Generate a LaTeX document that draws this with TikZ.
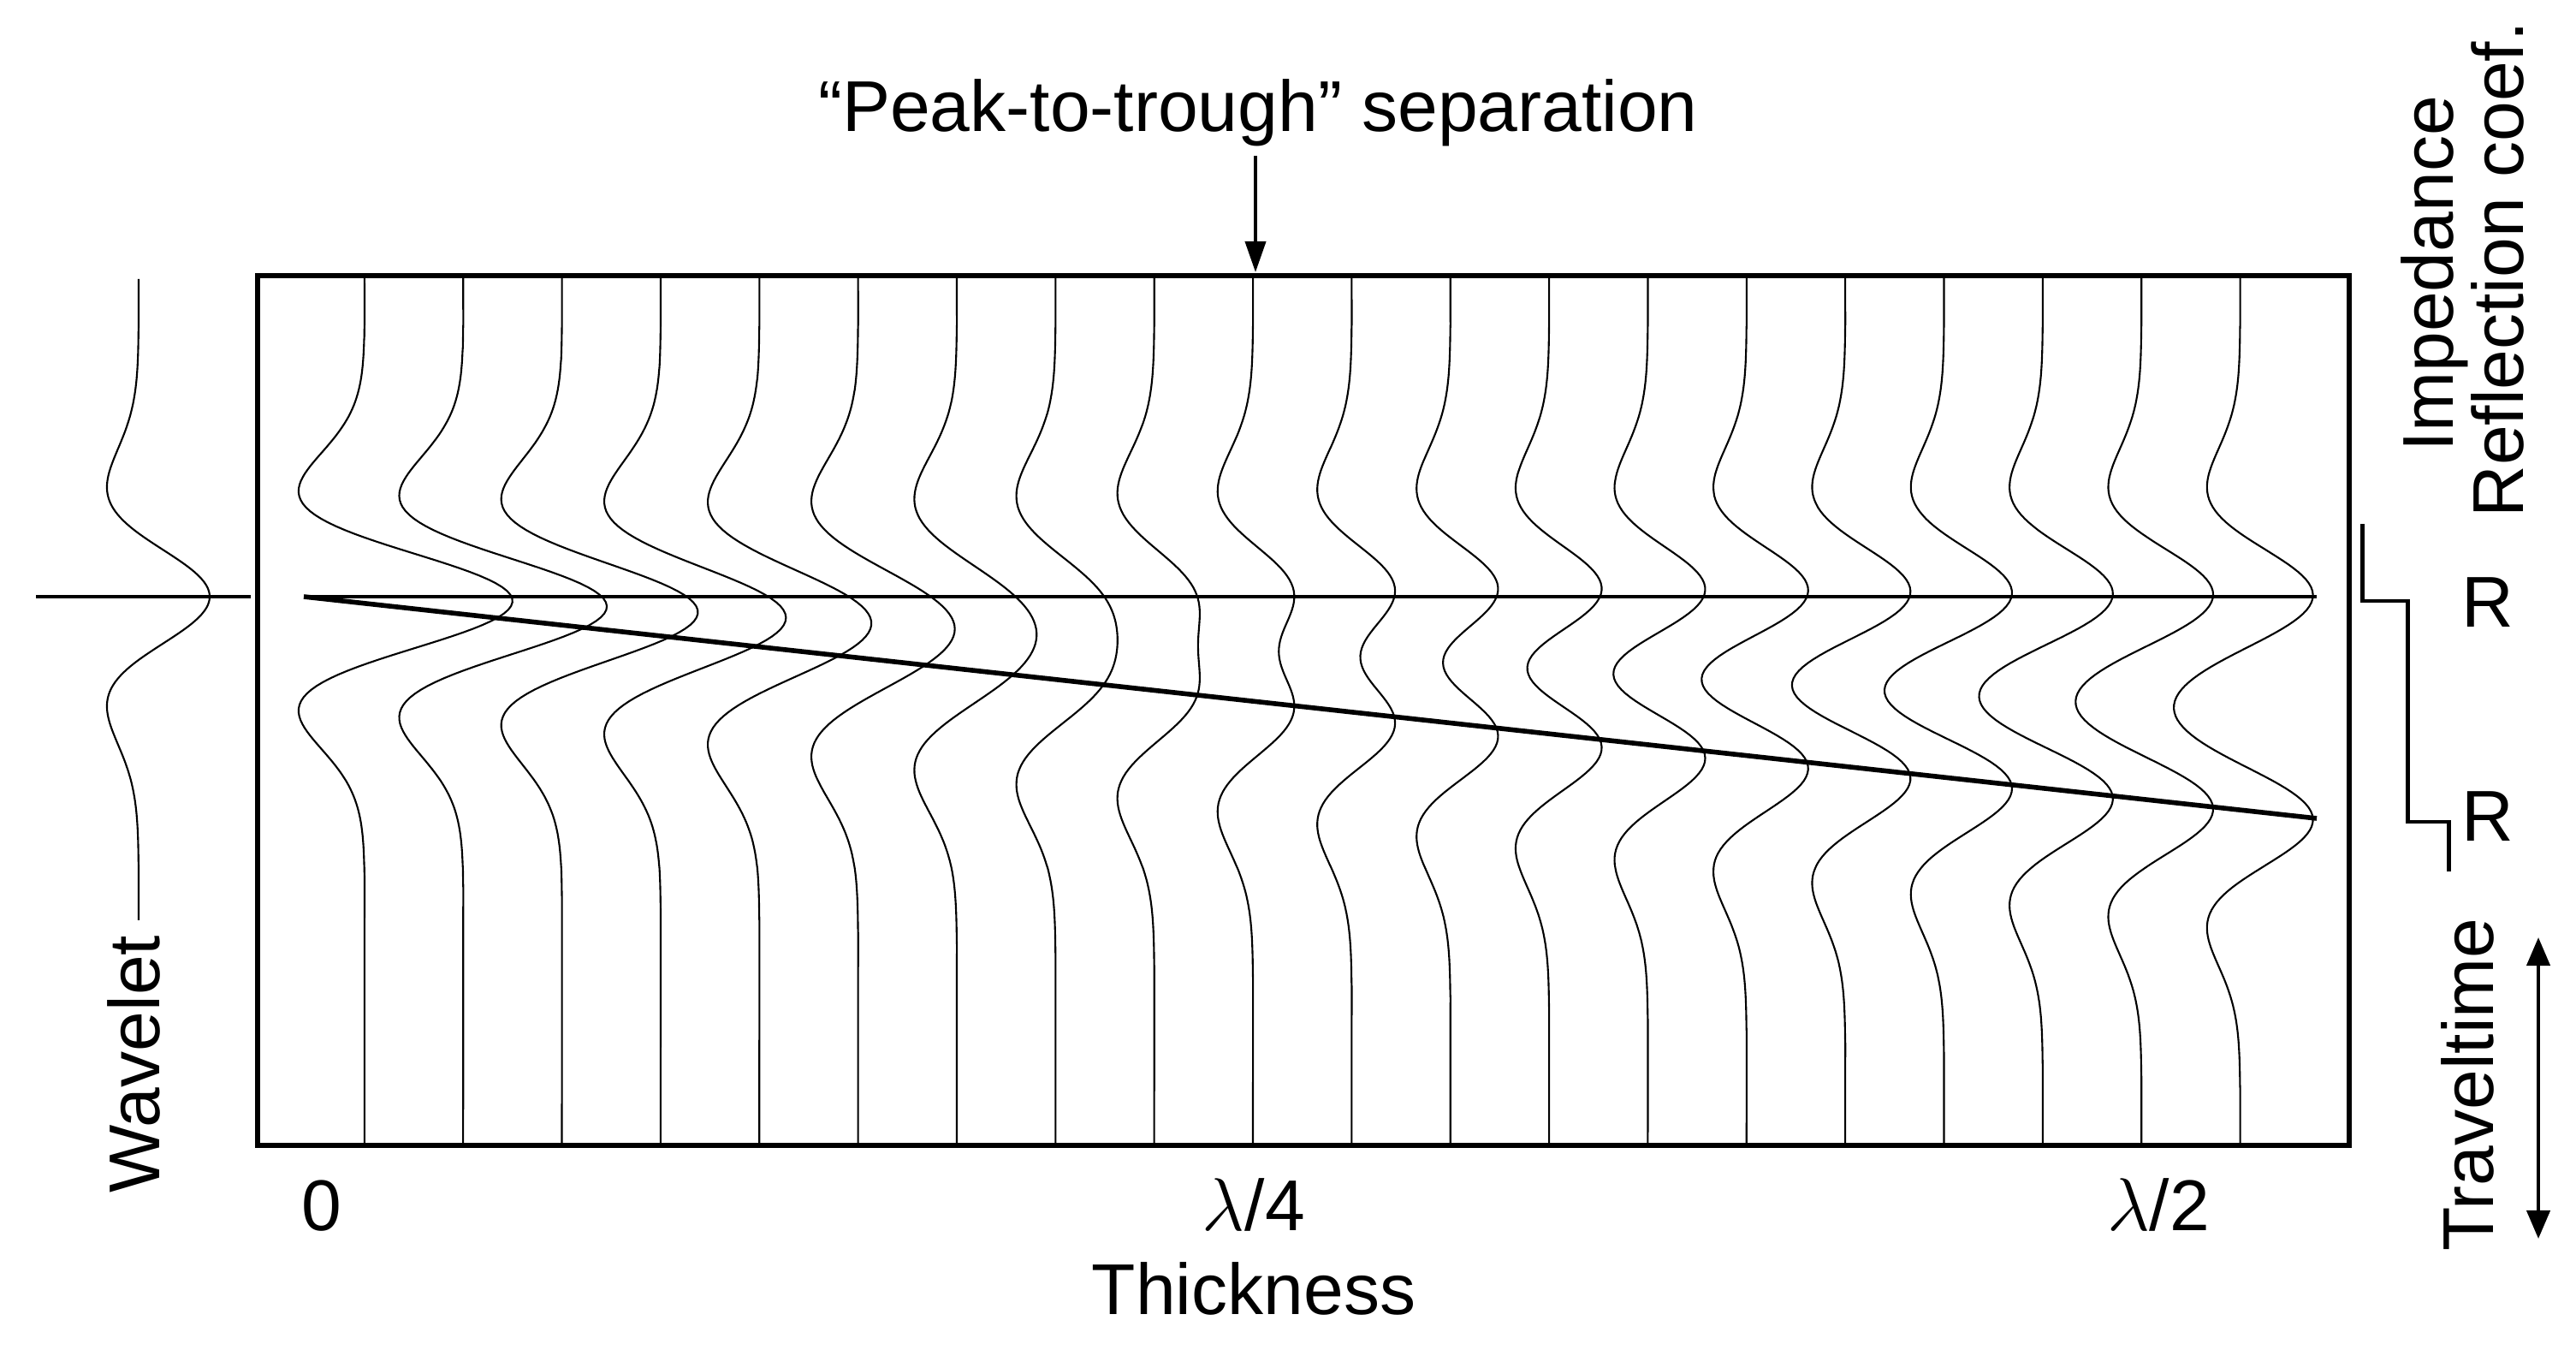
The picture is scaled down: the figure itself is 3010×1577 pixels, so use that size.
\documentclass[tikz,border=0pt]{standalone}
\usepackage{fontspec}
\setmainfont{Liberation Sans}
\usetikzlibrary{arrows.meta}
\begin{document}
\begin{tikzpicture}[x=0.01cm,y=-0.01cm,
  declare function={rk(\u)=(1-2*\u*\u)*exp(-\u*\u);},
  frame/.style={line width=1.45pt},
  trace/.style={line width=0.6pt,line join=round},
  refl/.style={line width=1.25pt},
  slant/.style={line width=1.6pt},
  imped/.style={line width=1.4pt,line join=miter},
  lbl/.style={inner sep=0pt,font=\fontsize{23.9}{28}\selectfont},
  arrdown/.style={line width=1.1pt,-{Triangle[length=0.36cm,width=0.24cm]}},
  arrboth/.style={line width=1.2pt,{Triangle[length=0.33cm,width=0.27cm]}-{Triangle[length=0.33cm,width=0.27cm]}}
]
\useasboundingbox[fill=white] (0,0) rectangle (3010,1577);

% frame
\coordinate (fTL) at (301,322);
\coordinate (fBR) at (2745,1338);
\draw[frame] (fTL) rectangle (fBR);

% traces
\foreach \i in {0,...,19}{
  \pgfmathsetmacro\xb{426+115.35*\i}
  \pgfmathsetmacro\dd{10+13.1*\i}
  \draw[trace] plot[samples=230,domain=322:1338,variable=\t]
    ({\xb+87*(rk(0.009568*(\t-697))+rk(0.009568*(\t-697-\dd)))},\t);
}

% reflectors
\coordinate (r0) at (355,697);
\coordinate (r1) at (2707,697);
\coordinate (r2) at (2707,956);
\draw[refl] (r0) -- (r1);
\draw[slant] (r0) -- (r2);

% wavelet
\coordinate (wl) at (42,697);
\coordinate (wr) at (293,697);
\draw[line width=0.9pt] (wl) -- (wr);
\draw[trace] plot[samples=200,domain=326:1075,variable=\t]
  ({162+83*rk(0.009568*(\t-697))},\t);
\node[lbl,rotate=90,anchor=base] (wavelet) at (186,1243) {Wavelet};

% title and arrow
\node[lbl,anchor=base] (title) at (1470,154) {“Peak-to-trough” separation};
\coordinate (pA) at (1467,182);
\coordinate (pB) at (1467,318);
\draw[arrdown] (pA) -- (pB);

% thickness labels
\node[lbl,anchor=base] (t0) at (376,1437) {0};
\node[lbl,anchor=base] (t4) at (1465,1437) {$\lambda$/4};
\node[lbl,anchor=base] (t2) at (2522,1437) {$\lambda$/2};
\node[lbl,anchor=base] (thick) at (1465,1535) {Thickness};

% impedance step
\coordinate (s0) at (2760,612);
\coordinate (s1) at (2760,702);
\coordinate (s2) at (2813,702);
\coordinate (s3) at (2813,960);
\coordinate (s4) at (2861,960);
\coordinate (s5) at (2861,1018);
\draw[imped] (s0) -- (s1) -- (s2) -- (s3) -- (s4) -- (s5);

% right labels
\node[lbl,rotate=90,anchor=base] (imp) at (2866,320) {Impedance};
\node[lbl,rotate=90,anchor=base] (refc) at (2948,315) {Reflection coef.};
\node[lbl,anchor=base west] (R1) at (2876,733) {R};
\node[lbl,anchor=base west] (R2) at (2876,982) {R};
\node[lbl,rotate=90,anchor=base] (tt) at (2913,1267) {Traveltime};
\coordinate (tA) at (2966,1095);
\coordinate (tB) at (2966,1447);
\draw[arrboth] (tA) -- (tB);
\end{tikzpicture}
\end{document}
